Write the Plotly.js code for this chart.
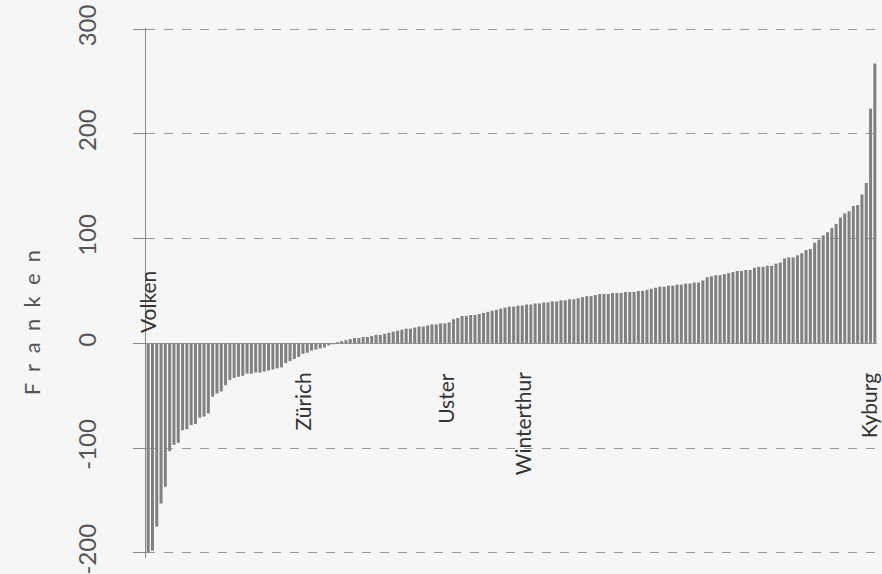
<!DOCTYPE html>
<html>
<head>
<meta charset="utf-8">
<script src="https://cdn.plot.ly/plotly-3.0.1.min.js"></script>
<style>html,body{margin:0;padding:0;background:#f6f6f6;}#chart{width:882px;height:574px;}</style>
</head>
<body>
<div id="chart"></div>
<script>
// Sorted values (Franken) for each municipality, ascending
const values = [
  -200, -198, -175, -153, -137, -103, -97, -95, -83, -82,
  -78, -77, -71, -70, -67, -51, -48, -46, -40, -35,
  -33, -32, -31, -29, -29, -28, -28, -27, -26, -25,
  -24, -23, -19, -17, -15, -13, -10, -9, -7, -6,
  -5, -4, -2, -1, 1, 2, 3, 4, 5, 5,
  6, 6, 7, 8, 8, 9, 10, 11, 12, 13,
  14, 14, 15, 16, 16, 17, 18, 18, 19, 19,
  20, 23, 24, 26, 26, 27, 27, 28, 29, 30,
  31, 32, 33, 34, 35, 35, 36, 36, 37, 37,
  38, 38, 39, 39, 40, 40, 41, 41, 42, 42,
  43, 44, 45, 45, 46, 47, 47, 47, 48, 48,
  48, 49, 49, 49, 50, 50, 51, 52, 53, 54,
  54, 55, 55, 56, 56, 57, 57, 58, 58, 60,
  63, 64, 65, 65, 66, 67, 68, 69, 69, 70,
  70, 72, 73, 73, 74, 74, 76, 77, 81, 82,
  82, 84, 86, 89, 90, 96, 99, 103, 106, 110,
  114, 120, 124, 126, 131, 132, 142, 153, 224, 267
];
const positions = values.map((v, i) => i);

// Labelled municipalities and their rank positions
const labelNames = ["Volken", "Zürich", "Uster", "Winterthur", "Kyburg"];
const labelIndex = [0, 36, 69, 87, 169];

const yTickVals = [-200, -100, 0, 100, 200, 300];
const yTickText = ["-200", "-100", "0", "100", "200", "300"];
const yTitle = "F\u00a0 r\u00a0 a\u00a0 n\u00a0 k\u00a0 e\u00a0 n";

const FONT = 'Lato, "Open Sans", sans-serif';

const annotations = labelNames.map((name, k) => {
  const idx = labelIndex[k];
  const neg = values[idx] < -100;
  const last = idx === values.length - 1;
  return {
    x: positions[idx], y: neg ? 8 : -26,
    xref: 'x', yref: 'y',
    text: name, showarrow: false, textangle: -90,
    xanchor: 'center', yanchor: neg ? 'bottom' : 'top',
    xshift: last ? -6 : 0,
    font: {family: FONT, size: 21, color: '#333'}
  };
});
annotations.push({
  xref: 'paper', yref: 'paper', x: -0.157, y: 0.5,
  yshift: -30,
  text: yTitle, showarrow: false, textangle: -90,
  xanchor: 'center', yanchor: 'middle',
  font: {family: FONT, size: 22, color: '#555'}
});

Plotly.newPlot('chart', [{
  type: 'bar',
  x: positions,
  y: values,
  marker: {color: '#808080', line: {width: 0}},
  hoverinfo: 'skip'
}], {
  width: 882, height: 574,
  paper_bgcolor: '#f6f6f6', plot_bgcolor: '#f6f6f6',
  margin: {l: 146, r: 5, t: 28, b: 16},
  bargap: 0.3,
  showlegend: false,
  xaxis: {
    range: [-0.5, values.length - 0.5],
    showgrid: false, zeroline: false, showline: false,
    showticklabels: false, ticks: ''
  },
  yaxis: {
    range: [-205, 301],
    tickvals: yTickVals, ticktext: yTickText,
    tickangle: -90,
    ticks: 'outside', ticklen: 12, tickcolor: '#888', tickwidth: 1,
    ticklabelstandoff: 27,
    ticklabeloverflow: 'allow',
    tickfont: {family: FONT, size: 24, color: '#555'},
    showgrid: true, gridcolor: '#999', griddash: 'dash', gridwidth: 1,
    zeroline: true, zerolinecolor: '#999', zerolinewidth: 1.5,
    showline: true, linecolor: '#888', linewidth: 1
  },
  annotations: annotations
}, {staticPlot: true});
</script>
</body>
</html>
